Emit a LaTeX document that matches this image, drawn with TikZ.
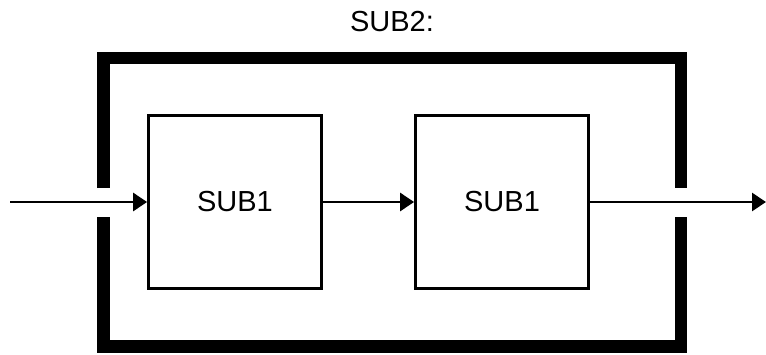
\documentclass[tikz,border=0pt]{standalone}
\usepackage{fontspec}
\setmainfont{Liberation Sans}
\usetikzlibrary{arrows.meta,positioning}

\begin{document}
\begin{tikzpicture}[x=1pt,y=-1pt,
  font=\fontsize{29}{34}\selectfont,
  blk/.style={draw,line width=2.8pt,minimum width=173pt,minimum height=173pt,inner sep=0pt},
  frame/.style={line width=12.5pt,line cap=butt,line join=miter},
  sig/.style={-{Triangle[length=14pt,width=18pt]},line width=2.8pt}]

\useasboundingbox (0,0) rectangle (766,354);

\node (title) at (392,22) {SUB2:};
\node[blk] (s1) at (235,202) {SUB1};
\node[blk] (s2) at (502,202) {SUB1};

\coordinate (in)  at (10,202);
\coordinate (out) at (766,202);

% outer block, open at the ports
\draw[frame] (103.5,188) -- (103.5,58) -- (681,58) -- (681,188);
\draw[frame] (103.5,217) -- (103.5,346.5) -- (681,346.5) -- (681,217);

\draw[sig] (in) -- (s1);
\draw[sig] (s1) -- (s2);
\draw[sig] (s2) -- (out);
\end{tikzpicture}
\end{document}
